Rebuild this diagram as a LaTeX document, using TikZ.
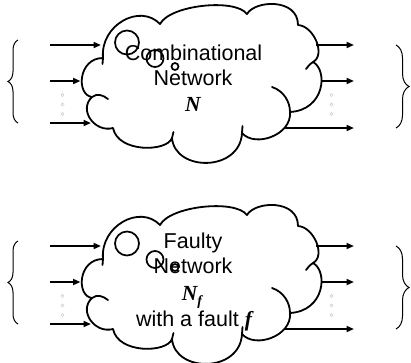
\documentclass[tikz,border=0pt]{standalone}
\usepackage{fontspec}
\setmainfont{Liberation Sans}
\newfontfamily\timesfont{Liberation Serif}
\usetikzlibrary{arrows.meta,decorations.pathreplacing}

% one network cloud: ten lobes plus the short inner arcs
\newcommand\netcloud{%
  \draw[outline] (103,58) .. controls (100,25) and (140,3) .. (160,24)
    .. controls (170,5) and (235,-2) .. (247,14)
    .. controls (255,0) and (298,-2) .. (298,25)
    .. controls (314,26) and (326,55) .. (313,62)
    .. controls (328,70) and (325,110) .. (290,112)
    .. controls (292,135) and (255,148) .. (242,133)
    .. controls (240,172) and (175,172) .. (172,138)
    .. controls (167,152) and (118,153) .. (113,128)
    .. controls (95,133) and (78,110) .. (92,97)
    .. controls (76,95) and (78,58) .. cycle;
  \draw[outline] (103,58) -- (102.5,64);
  \draw[outline] (313,62) .. controls (310,64) .. (306,69);
  \draw[outline] (272,87) .. controls (284,91) and (290,102) .. (290,112);
  \draw[outline] (242,133) -- (242.5,126);
  \draw[outline] (172,138) -- (173.5,132);
  \draw[outline] (92,97) .. controls (97,93) and (103,95) .. (108,99);
  % thought bubbles
  \draw[bubble] (127,42.5) circle[radius=12pt];
  \draw[bubble] (155,58.5) circle[radius=8.5pt];
  \draw[bubble] (175,66.5) circle[radius=3.5pt];
}

% input and output wires, braces and elision dots
\newcommand\netwires[1]{%
  \coordinate (#1ia1) at (50,45);  \coordinate (#1ib1) at (101,45);
  \coordinate (#1ia2) at (50,81);  \coordinate (#1ib2) at (80.5,81);
  \coordinate (#1ia3) at (50,123); \coordinate (#1ib3) at (91,123);
  \coordinate (#1oa1) at (316,45);  \coordinate (#1ob1) at (354,45);
  \coordinate (#1oa2) at (321,81);  \coordinate (#1ob2) at (354,81);
  \coordinate (#1oa3) at (285,128); \coordinate (#1ob3) at (354,128);
  \foreach \k in {1,2,3} {
    \draw[wire] (#1ia\k) -- (#1ib\k);
    \draw[wire] (#1oa\k) -- (#1ob\k);
  }
  \coordinate (#1lb) at (18,123); \coordinate (#1lt) at (18,40);
  \coordinate (#1rt) at (396,45); \coordinate (#1rb) at (396,128);
  \draw[bracket, decoration={amplitude=10pt}] (#1lb) -- (#1lt);
  \draw[bracket, decoration={amplitude=13pt}] (#1rt) -- (#1rb);
  \foreach \yy in {95,104.5,114} {
    \draw[dotmark] (62.5,\yy) circle[radius=1.6pt];
    \draw[dotmark] (331.5,\yy) circle[radius=1.6pt];
  }
}

\tikzset{
  outline/.style={line width=1.8pt, line join=round, line cap=round},
  bubble/.style={line width=1.7pt},
  wire/.style={line width=1.8pt, -{Triangle[length=7.5pt,width=6pt]}},
  dotmark/.style={draw=black!22, line width=0.5pt},
  bracket/.style={line width=1pt, decorate, decoration={brace}},
  lbl/.style={font=\fontsize{21.5}{25}\selectfont, inner sep=0pt, anchor=base},
  sym/.style={lbl, font=\fontsize{21.5}{25}\selectfont\timesfont\bfseries\itshape},
}

\begin{document}
\begin{tikzpicture}[x=1pt, y=-1pt]
  \useasboundingbox (0,0) rectangle (411,362);

  % fault-free network
  \netcloud
  \netwires{u}
  \node[lbl] (ucomb) at (193.5,60) {Combinational};
  \node[lbl] (unet) at (193,85) {Network};
  \node[sym] (uname) at (193,111) {N};

  % faulty network
  \begin{scope}[shift={(0,201)}]
    \netcloud
    \netwires{d}
    \node[lbl] (dfaulty) at (193,47) {Faulty};
    \node[lbl] (dnet) at (193,72) {Network};
    \node[sym] (dname) at (192,99) {N\raisebox{-5pt}{\fontsize{14}{14}\selectfont f}};
    \node[lbl] (dwith) at (194,125) {with a fault {\timesfont\bfseries\itshape f}};
  \end{scope}
\end{tikzpicture}
\end{document}
